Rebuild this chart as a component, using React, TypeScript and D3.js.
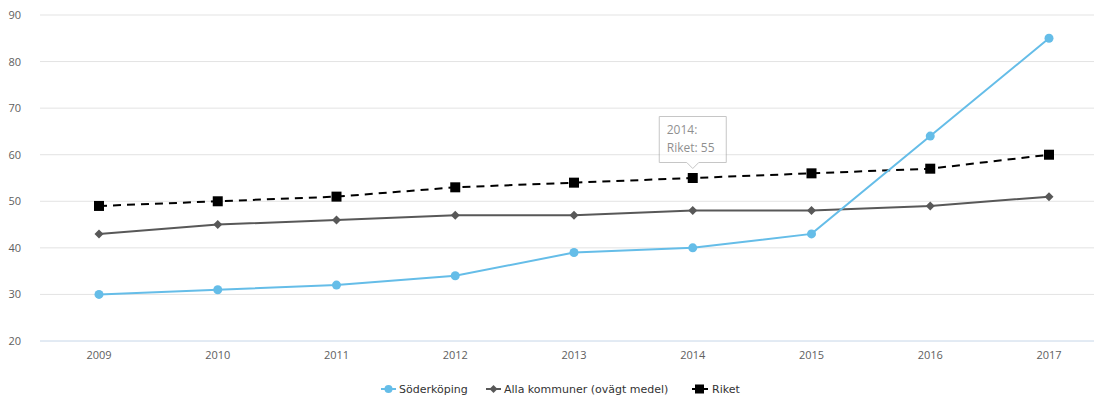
import React from "react";
import * as d3 from "d3";

const years = ["2009", "2010", "2011", "2012", "2013", "2014", "2015", "2016", "2017"];
const soderkoping = [30, 31, 32, 34, 39, 40, 43, 64, 85];
const allaKommuner = [43, 45, 46, 47, 47, 48, 48, 49, 51];
const riket = [49, 50, 51, 53, 54, 55, 56, 57, 60];
const yTicks = [20, 30, 40, 50, 60, 70, 80, 90];
const seriesNames = ["Söderköping", "Alla kommuner (ovägt medel)", "Riket"];

const W = 1094;
const H = 396;
const FONT = "'Open Sans', 'DejaVu Sans', sans-serif";
const LEGEND_FONT = "'DejaVu Sans', sans-serif";

export default function App() {
  const x = d3.scalePoint<string>().domain(years).range([99, 1049]);
  const y = d3.scaleLinear().domain([20, 90]).range([341, 15]);
  const gridX1 = 40;
  const gridX2 = W;

  const line = d3
    .line<number>()
    .x((_, i) => x(years[i]) as number)
    .y((d) => y(d));

  const blue = "#65bde8";
  const gray = "#585858";
  const black = "#000";

  const tipYear = "2014";
  const tipVal = riket[years.indexOf(tipYear)];
  const tx = x(tipYear) as number;
  const ty = y(tipVal);

  const legendY = 389;

  return (
    <svg
      width={W}
      height={H}
      style={{ position: "absolute", left: 0, top: 0, background: "#fff" }}
      fontFamily={FONT}
    >
      {/* grid */}
      {yTicks.map((t) => (
        <g key={t}>
          <line
            x1={gridX1}
            x2={gridX2}
            y1={y(t)}
            y2={y(t)}
            stroke={t === 20 ? "#c6d6e8" : "#e3e3e3"}
            strokeWidth={1}
          />
          <text x={21} y={y(t) + 4} fontSize={11} fill="#606060" textAnchor="end">
            {t}
          </text>
        </g>
      ))}
      {years.map((yr) => (
        <text key={yr} x={x(yr) as number} y={359} fontSize={11} fill="#606060" textAnchor="middle">
          {yr}
        </text>
      ))}

      {/* Riket */}
      <path d={line(riket) as string} fill="none" stroke={black} strokeWidth={2} strokeDasharray="8,6" />
      {riket.map((v, i) => (
        <rect key={i} x={(x(years[i]) as number) - 5} y={y(v) - 5} width={10} height={10} fill={black} />
      ))}

      {/* Alla kommuner */}
      <path d={line(allaKommuner) as string} fill="none" stroke={gray} strokeWidth={2} />
      {allaKommuner.map((v, i) => {
        const cx = x(years[i]) as number;
        const cy = y(v);
        return (
          <path
            key={i}
            d={`M${cx},${cy - 4.5}L${cx + 4.5},${cy}L${cx},${cy + 4.5}L${cx - 4.5},${cy}Z`}
            fill={gray}
          />
        );
      })}

      {/* Söderköping */}
      <path d={line(soderkoping) as string} fill="none" stroke={blue} strokeWidth={2} />
      {soderkoping.map((v, i) => (
        <circle key={i} cx={x(years[i]) as number} cy={y(v)} r={4.5} fill={blue} />
      ))}

      {/* tooltip */}
      <g opacity={0.55}>
        <path
          d={`M${tx - 33.5},${ty - 61.5}H${tx + 33.5}V${ty - 15.5}H${tx + 6}L${tx},${ty - 9.5}L${tx - 6},${ty - 15.5}H${tx - 33.5}Z`}
          fill="#fff"
          stroke="#999"
          strokeWidth={1}
        />
        <text x={tx - 26} y={ty - 44} fontSize={12} fill="#333">
          {tipYear}:
        </text>
        <text x={tx - 26} y={ty - 26} fontSize={12} fill="#333">
          Riket: {tipVal}
        </text>
      </g>

      {/* legend */}
      <g fontSize={11} fill="#333" fontFamily={LEGEND_FONT}>
        <line x1={381} x2={396} y1={legendY} y2={legendY} stroke={blue} strokeWidth={2} />
        <circle cx={388.5} cy={legendY} r={4} fill={blue} />
        <text x={399} y={legendY + 4}>{seriesNames[0]}</text>

        <line x1={486} x2={501} y1={legendY} y2={legendY} stroke={gray} strokeWidth={2} />
        <path
          d={`M493.5,${legendY - 4}L497.5,${legendY}L493.5,${legendY + 4}L489.5,${legendY}Z`}
          fill={gray}
        />
        <text x={504} y={legendY + 4}>{seriesNames[1]}</text>

        <line x1={692} x2={708} y1={legendY} y2={legendY} stroke={black} strokeWidth={2} strokeDasharray="8,3" />
        <rect x={695} y={legendY - 4.5} width={9} height={9} fill={black} />
        <text x={712} y={legendY + 4}>{seriesNames[2]}</text>
      </g>
    </svg>
  );
}
